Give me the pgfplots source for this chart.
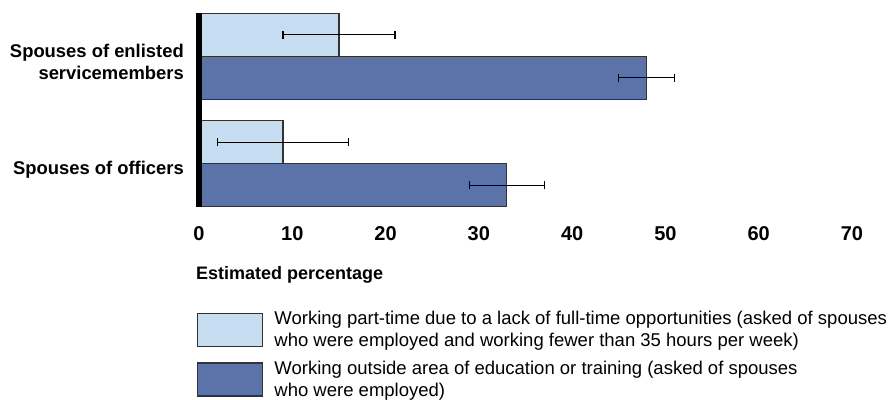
\documentclass[border=0pt]{standalone}
\usepackage{fontspec}
\setmainfont{Liberation Sans}
\usepackage{pgfplots}
\pgfplotsset{compat=1.18}
\definecolor{lightbar}{RGB}{198,220,240}
\definecolor{darkbar}{RGB}{92,115,170}
\definecolor{edge}{RGB}{50,50,50}
\newcommand\tickfont{\fontsize{20bp}{22bp}\selectfont\bfseries}
\newcommand\catfont{\fontsize{18.4bp}{22bp}\selectfont\bfseries}
\newcommand\labfont{\fontsize{18bp}{22bp}\selectfont\bfseries}
\newcommand\legfont{\fontsize{18.5bp}{22bp}\selectfont}
\begin{document}
\begin{tikzpicture}
\useasboundingbox (0,0) rectangle (893bp,400bp);
\begin{axis}[
  at={(199bp,193bp)}, anchor=south west,
  scale only axis, width=653bp, height=194bp,
  xmin=0, xmax=70, ymin=-0.402, ymax=1.402,
  xbar, bar width=43bp,
  clip=false,
  axis line style={draw=none},
  xtick={0,10,...,70}, ytick={0,1},
  yticklabels={{Spouses of officers},{Spouses of enlisted\\servicemembers}},
  major tick length=0pt,
  /pgf/number format/assume math mode=true,
  xticklabel style={font=\tickfont, anchor=center, yshift=-27bp},
  yticklabel style={font=\catfont, align=right, anchor=east, inner sep=0pt, xshift=-15bp, yshift=-5.5bp},
  xlabel={Estimated percentage},
  xlabel style={font=\labfont, at={(axis description cs:0,0)}, anchor=west, yshift=-68bp, xshift=-3bp, inner sep=0pt},
  legend cell align=left,
  legend style={at={(axis description cs:-0.003,-0.536)}, anchor=north west, draw=none, fill=none,
    inner sep=0pt, row sep=13bp, column sep=11bp, font=\legfont, nodes={align=left, inner sep=0pt}},
  legend image code/.code={\draw[#1] (0bp,-16.5bp) rectangle (65bp,16.5bp);},
]
\addplot[fill=lightbar, draw=edge, line width=1.2bp, bar shift=21.5bp,
  error bars/.cd, x dir=both, x explicit, error mark=|,
  error bar style={black, line width=1.3bp}, error mark options={black, line width=1.3bp, mark size=4bp}]
  coordinates {(15,1) +- (6,0) (9,0) +- (7,0)};
\addlegendentry{Working part-time due to a lack of full-time opportunities (asked of spouses\\who were employed and working fewer than 35 hours per week)}
\addplot[fill=darkbar, draw=edge, line width=1.2bp, bar shift=-21.5bp,
  error bars/.cd, x dir=both, x explicit, error mark=|,
  error bar style={black, line width=1.3bp}, error mark options={black, line width=1.3bp, mark size=4bp}]
  coordinates {(48,1) +- (3,0) (33,0) +- (4,0)};
\addlegendentry{Working outside area of education or training (asked of spouses\\who were employed)}
\draw[black, line width=5bp] (axis cs:0,-0.402) -- (axis cs:0,1.402);
\end{axis}
\end{tikzpicture}
\end{document}
